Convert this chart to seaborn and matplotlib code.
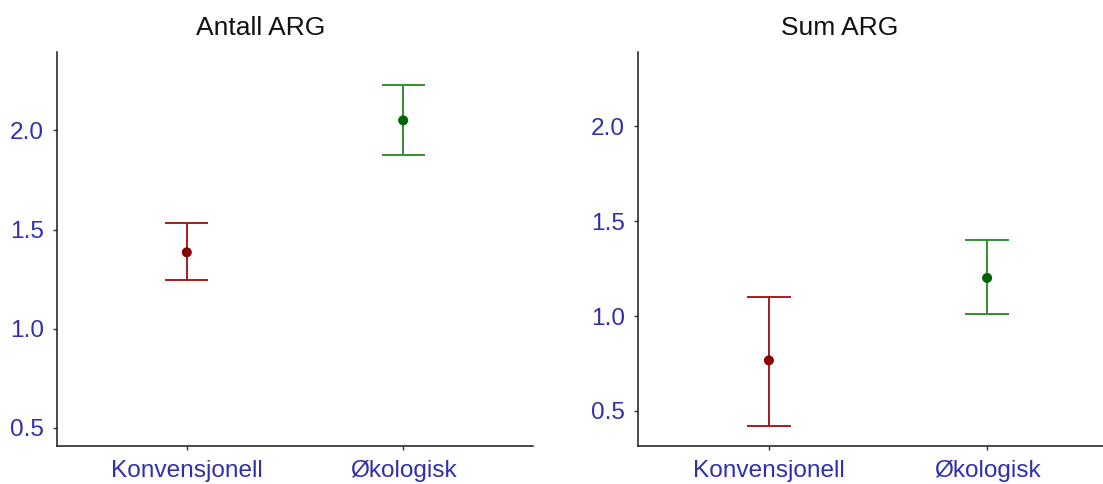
import numpy as np
import pandas as pd
import matplotlib
matplotlib.use("Agg")
import matplotlib.pyplot as plt
import seaborn as sns

# Group means with lower / upper interval limits for each panel
groups = ["Konvensjonell", "Økologisk"]

antall_mean = [1.385, 2.051]
antall_low = [1.246, 1.877]
antall_high = [1.535, 2.229]

sum_mean = [0.766, 1.201]
sum_low = [0.421, 1.010]
sum_high = [1.101, 1.400]

panel_titles = ["Antall ARG", "Sum ARG"]
y_ticks = [0.5, 1.0, 1.5, 2.0]

bar_colors = ["#a31515", "#2b8a2b"]
point_colors = ["#8b0000", "#006400"]
tick_color = "#2f2fb0"

sns.set_theme(style="ticks")
plt.rcParams["font.family"] = ["Liberation Sans", "DejaVu Sans"]

W, H = 1103, 484
fig = plt.figure(figsize=(W / 100, H / 100), dpi=100)

bottom = 1 - 445.7 / H
height = (445.7 - 52) / H
ax_left = fig.add_axes([57 / W, bottom, 476 / W, height])
ax_right = fig.add_axes([638 / W, bottom, 480 / W, height])

panels = [
    (ax_left, antall_mean, antall_low, antall_high, (0.409, 2.396)),
    (ax_right, sum_mean, sum_low, sum_high, (0.316, 2.393)),
]

for ax, means, lows, highs, ylim in panels:
    df = pd.DataFrame({"gruppe": groups, "verdi": means,
                       "lav": lows, "hoy": highs})
    # interval bars with caps
    for i, row in df.iterrows():
        ax.errorbar(i, row["verdi"],
                    yerr=[[row["verdi"] - row["lav"]], [row["hoy"] - row["verdi"]]],
                    fmt="none", ecolor=bar_colors[i], elinewidth=1.35,
                    capsize=0, zorder=2)
        ax.hlines([row["lav"], row["hoy"]], i - 0.1, i + 0.1,
                  colors=bar_colors[i], linewidth=1.35, zorder=2)
    sns.scatterplot(data=df, x="gruppe", y="verdi", hue="gruppe",
                    palette=point_colors, s=52, edgecolor="none",
                    legend=False, ax=ax, zorder=3)
    ax.set_xlim(-0.6, 1.6)
    ax.set_ylim(*ylim)
    ax.set_yticks(y_ticks)
    ax.set_yticklabels([f"{t:.1f}" for t in y_ticks])
    ax.set_xlabel("")
    ax.set_ylabel("")
    sns.despine(ax=ax)
    for side in ("left", "bottom"):
        ax.spines[side].set_color("#1a1a1a")
        ax.spines[side].set_linewidth(1.1)
    ax.tick_params(axis="both", colors="#333333", length=3.2, width=1.0,
                   labelsize=17.6, labelcolor=tick_color)
    ax.tick_params(axis="y", pad=6.0)
    ax.tick_params(axis="x", pad=7.0)

fig.text(261 / W, 1 - 28 / H, panel_titles[0], ha="center", va="center",
         fontsize=19, color="#111111")
fig.text(840 / W, 1 - 28 / H, panel_titles[1], ha="center", va="center",
         fontsize=19, color="#111111")

fig.savefig("out.png", dpi=100, facecolor="white")
